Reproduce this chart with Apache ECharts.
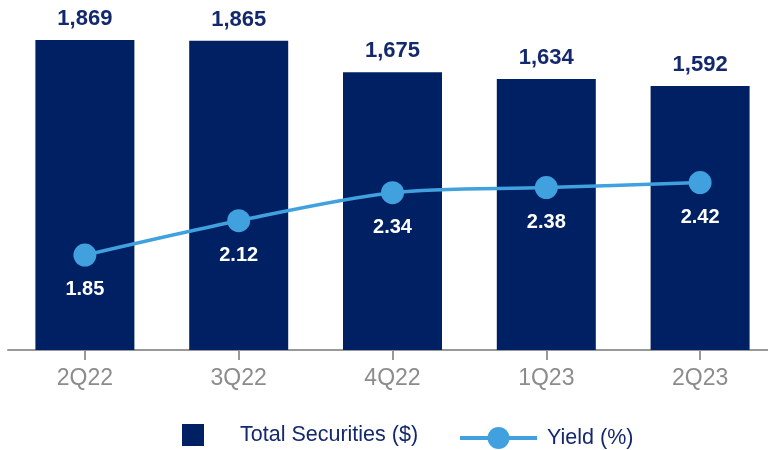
<!DOCTYPE html>
<html>
<head>
<meta charset="utf-8">
<script src="https://cdn.jsdelivr.net/npm/echarts@6/dist/echarts.min.js"></script>
<style>
  html, body { margin: 0; padding: 0; background: #fff; }
  #chart { width: 768px; height: 450px; }
</style>
</head>
<body>
<div id="chart"></div>
<script>
const categories = ['2Q22', '3Q22', '4Q22', '1Q23', '2Q23'];
const totalSecurities = [1869, 1865, 1675, 1634, 1592];
const yieldPct = [1.85, 2.12, 2.34, 2.38, 2.42];

const NAVY = '#002064';
const BLUE = '#41a1df';
const FONT = 'Liberation Sans, Arial, sans-serif';

const chart = echarts.init(document.getElementById('chart'), null, { renderer: 'canvas' });
chart.setOption({
  animation: false,
  backgroundColor: '#fff',
  grid: { left: 8, width: 769, top: 40, bottom: 100, containLabel: false, outerBoundsMode: 'none' },
  xAxis: {
    type: 'category',
    data: categories,
    axisLine: { show: true, lineStyle: { color: '#999999', width: 2 } },
    axisTick: { show: true, inside: false, interval: 0, alignWithLabel: true, length: 10, lineStyle: { color: '#999999', width: 2 } },
    axisLabel: { color: '#8c8c8c', fontSize: 23, fontFamily: FONT, margin: 17, interval: 0 }
  },
  yAxis: [
    { type: 'value', min: 0, max: 1869, show: false, splitLine: { show: false } },
    { type: 'value', min: 1.105, max: 3.539, show: false, splitLine: { show: false } }
  ],
  legend: [
    {
      data: [{ name: 'Total Securities ($)', icon: 'rect' }],
      left: 182, top: 418, padding: 0,
      itemWidth: 22, itemHeight: 22,
      textStyle: { color: '#14286e', fontSize: 21.5, fontFamily: FONT, lineHeight: 28, padding: [6, 0, 0, 31] }
    },
    {
      data: ['Yield (%)'],
      left: 458, top: 427, padding: 0,
      itemWidth: 77, itemHeight: 27.5,
      lineStyle: { width: 4 },
      textStyle: { color: '#14286e', fontSize: 21.5, fontFamily: FONT, padding: [2, 0, 0, 5] }
    }
  ],
  series: [
    {
      name: 'Total Securities ($)',
      type: 'bar',
      data: totalSecurities,
      barWidth: 99,
      itemStyle: { color: NAVY },
      label: {
        show: true, position: 'top', distance: 10,
        color: '#14286e', fontSize: 22, fontWeight: 'bold', fontFamily: FONT,
        formatter: p => p.value.toLocaleString('en-US')
      }
    },
    {
      name: 'Yield (%)',
      type: 'line',
      yAxisIndex: 1,
      data: yieldPct,
      smooth: 0.3,
      symbol: 'circle',
      symbolSize: 23,
      lineStyle: { color: BLUE, width: 3.5 },
      itemStyle: { color: BLUE },
      label: {
        show: true, position: 'bottom', distance: 13,
        color: '#ffffff', fontSize: 20, fontWeight: 'bold', fontFamily: FONT,
        formatter: p => p.value.toFixed(2)
      },
      z: 5
    }
  ]
});
</script>
</body>
</html>
